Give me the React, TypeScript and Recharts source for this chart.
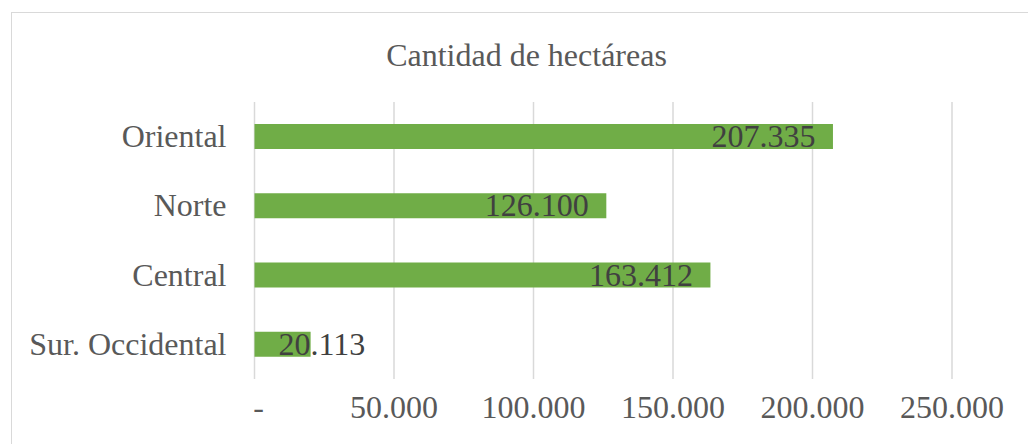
import React from 'react';
import { BarChart, Bar, XAxis, YAxis, CartesianGrid, LabelList } from 'recharts';

const regions = ['Oriental', 'Norte', 'Central', 'Sur. Occidental'];
const hectares = [207335, 126100, 163412, 20113];
const xTicks = [0, 50000, 100000, 150000, 200000, 250000];

const data = regions.map((region, i) => ({ region, value: hectares[i] }));

const FONT = '"Liberation Serif", "Times New Roman", serif';
const SIZE = 32;

// Excel style thousands: 50.000, zero shown as "-"
const fmt = (v: number) => (v === 0 ? '-' : String(v).replace(/\B(?=(\d{3})+(?!\d))/g, '.'));

const CategoryTick = ({ x, y, payload }: any) => (
  <text x={x} y={y} dy={10.5} textAnchor="end" fill="#595959" fontSize={SIZE} fontFamily={FONT}>
    {payload.value}
  </text>
);

const ValueTick = ({ x, y, payload }: any) => (
  <text
    x={x + (payload.value === 0 ? 4 : 0)}
    y={y}
    dy={31}
    textAnchor="middle"
    fill="#595959"
    fontSize={SIZE}
    fontFamily={FONT}
  >
    {fmt(payload.value)}
  </text>
);

const BarValue = ({ x, y, width, height, value }: any) => {
  const text = fmt(value);
  const textW = text.length * 16 - 8;
  const fits = width > textW + 30;
  return (
    <text
      x={fits ? x + width - 17.5 : x + 24}
      y={y + height / 2}
      dy={10.5}
      textAnchor={fits ? 'end' : 'start'}
      fill="#404040"
      fontSize={SIZE}
      fontFamily={FONT}
    >
      {text}
    </text>
  );
};

export default function App() {
  return (
    <div style={{ position: 'absolute', left: 0, top: 0, width: 1028, height: 444, overflow: 'hidden', background: '#fff' }}>
      <div
        style={{
          position: 'absolute',
          left: 11,
          top: 12,
          width: 1040,
          height: 460,
          border: '1px solid #d9d9d9',
          boxSizing: 'border-box',
        }}
      />
      <div
        style={{
          position: 'absolute',
          left: 0,
          width: 1053,
          top: 37,
          textAlign: 'center',
          fontFamily: FONT,
          fontSize: SIZE,
          color: '#595959',
          lineHeight: '36px',
        }}
      >
        Cantidad de hectáreas
      </div>
      <div style={{ position: 'absolute', left: 0, top: 0 }}>
        <BarChart
          width={1028}
          height={444}
          data={data}
          layout="vertical"
          margin={{ top: 102, right: 76, bottom: 15, left: 0 }}
        >
          <CartesianGrid horizontal={false} stroke="#d9d9d9" strokeWidth={1.5} />
          <XAxis
            type="number"
            domain={[0, 250000]}
            ticks={xTicks}
            axisLine={false}
            tickLine={false}
            height={50}
            tick={<ValueTick />}
            interval={0}
          />
          <YAxis
            type="category"
            dataKey="region"
            width={254.5}
            axisLine={false}
            tickLine={false}
            tickMargin={22}
            tick={<CategoryTick />}
            interval={0}
          />
          <Bar dataKey="value" fill="#70AD47" barSize={25} isAnimationActive={false}>
            <LabelList dataKey="value" content={<BarValue />} />
          </Bar>
        </BarChart>
      </div>
    </div>
  );
}
